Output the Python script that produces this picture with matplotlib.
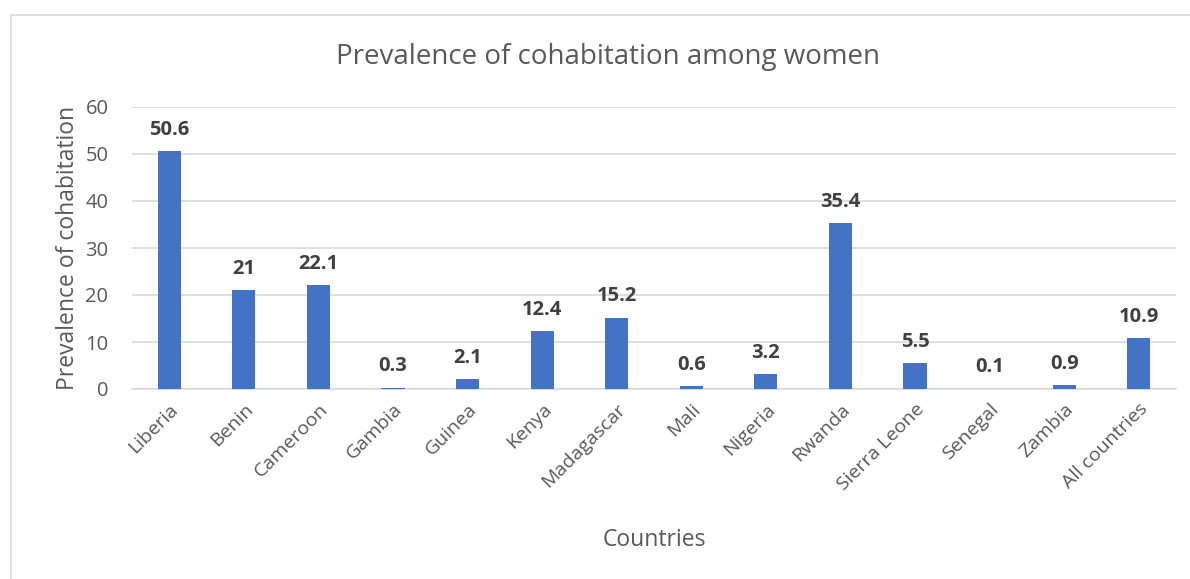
import matplotlib
matplotlib.use("Agg")
import matplotlib.pyplot as plt
from matplotlib.patches import Rectangle

countries = ["Liberia", "Benin", "Cameroon", "Gambia", "Guinea", "Kenya", "Madagascar",
             "Mali", "Nigeria", "Rwanda", "Sierra Leone", "Senegal", "Zambia", "All countries"]
values = [50.6, 21, 22.1, 0.3, 2.1, 12.4, 15.2, 0.6, 3.2, 35.4, 5.5, 0.1, 0.9, 10.9]
labels = ["50.6", "21", "22.1", "0.3", "2.1", "12.4", "15.2", "0.6", "3.2", "35.4", "5.5", "0.1", "0.9", "10.9"]
yticks = [0, 10, 20, 30, 40, 50, 60]

plt.rcParams['font.family'] = ['Open Sans', 'DejaVu Sans']
TXT = "#595959"

fig = plt.figure(figsize=(11.9, 5.79), dpi=100)
ax = fig.add_axes([132/1190, 1-389/579, (1176-132)/1190, (389-107)/579])

x = list(range(len(countries)))
ax.bar(x, values, width=0.31, color="#4472C4", zorder=3)
for xi, v, lab in zip(x, values, labels):
    ax.annotate(lab, (xi, v), xytext=(0, 8), textcoords="offset points",
                ha="center", va="bottom", fontsize=14.5, fontweight="bold", color="#404040")

ax.set_xlim(-0.5, len(countries) - 0.5)
ax.set_ylim(0, 60)
ax.set_yticks(yticks)
ax.set_yticklabels([str(t) for t in yticks], fontsize=14.5, color=TXT)
ax.set_xticks(x)
ax.set_xticklabels(countries, rotation=45, ha="right", rotation_mode="anchor", fontsize=14, color=TXT)
ax.tick_params(axis="y", length=0, pad=17)
ax.tick_params(axis="x", length=0, pad=8)
ax.grid(axis="y", color="#d9d9d9", linewidth=1.2, zorder=0)
for s in ["top", "right", "left"]:
    ax.spines[s].set_visible(False)
ax.spines["bottom"].set_color("#d9d9d9")
ax.spines["bottom"].set_linewidth(1.2)

ax.set_ylabel("Prevalence of cohabitation", fontsize=16.5, color=TXT)
ax.yaxis.set_label_coords(-(132 - 80) / 1044, 0.5)
ax.set_xlabel("Countries", fontsize=16.5, color=TXT)
ax.xaxis.set_label_coords(0.5, -(528 - 389) / 282)
fig.text(608/1190, 1-57/579, "Prevalence of cohabitation among women", ha="center", va="center",
         fontsize=20, color=TXT)

fig.patches.append(Rectangle((11/1190, -0.1), 1.2, 1.1 - 15/579, transform=fig.transFigure,
                             fill=False, edgecolor="#d9d9d9", linewidth=1.2))

fig.savefig("out.png", dpi=100)
